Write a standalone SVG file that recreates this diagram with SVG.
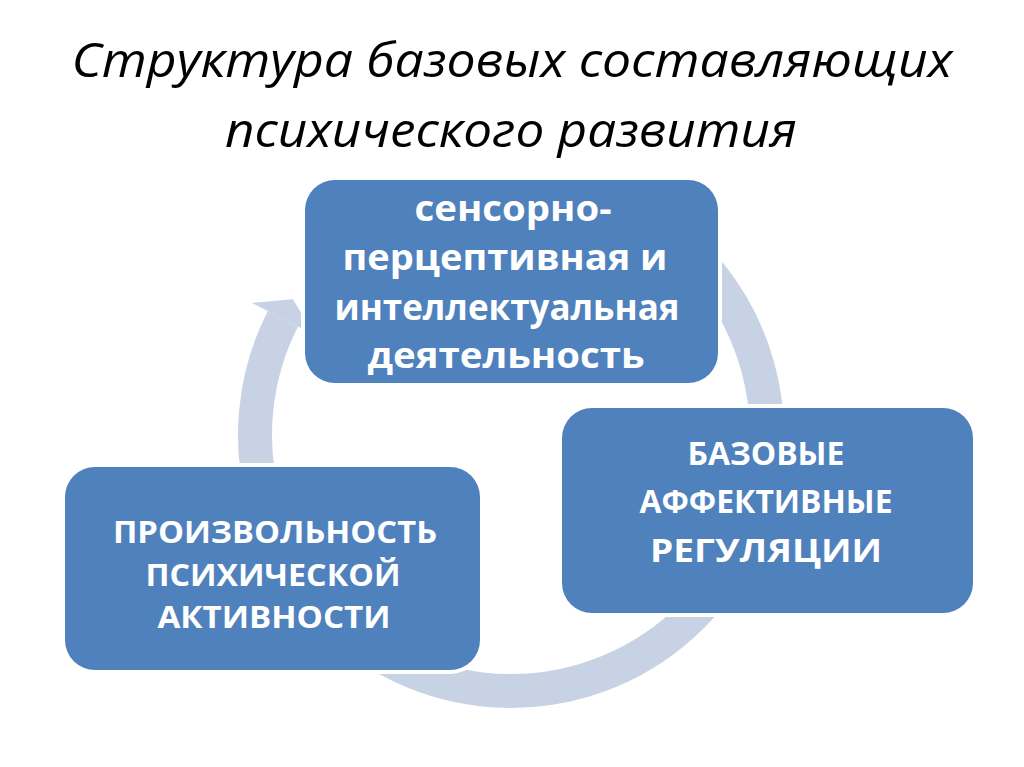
<svg xmlns="http://www.w3.org/2000/svg" width="1024" height="767" viewBox="0 0 1024 767">
<style>
.title{font-family:"Open Sans","Liberation Sans",sans-serif;font-style:italic;font-size:48px;fill:#000;text-anchor:middle}
.box{fill:#4F81BD;stroke:#fff;stroke-width:8;paint-order:stroke}
.lbl{font-family:"Open Sans","Liberation Sans",sans-serif;font-weight:bold;font-size:33px;fill:#fff;text-anchor:middle}
.top{font-size:35px}
.lft{font-size:31px}
.arc{fill:none;stroke:#C8D2E5;stroke-width:34}
</style>
<rect width="1024" height="767" fill="#fff"/>
<g id="title">
<text class="title" x="512" y="77" textLength="881" lengthAdjust="spacingAndGlyphs">Структура базовых составляющих</text>
<text class="title" x="511" y="147" textLength="572" lengthAdjust="spacingAndGlyphs">психического развития</text>
</g>
<g id="connectors">
<path class="arc" d="M639,213.3 A256,256 0 1 1 282.9,318.8"/>
<polygon points="251.7,302.9 292.9,299.2 314.1,334.7" fill="#C8D2E5"/>
</g>
<g id="node-top">
<rect class="box" x="305" y="180" width="413" height="203" rx="30"/>
<text class="lbl top" x="513" y="221" textLength="197" lengthAdjust="spacingAndGlyphs">сенсорно-</text>
<text class="lbl top" x="505" y="270" textLength="325" lengthAdjust="spacingAndGlyphs">перцептивная и</text>
<text class="lbl top" x="507" y="320" textLength="345" lengthAdjust="spacingAndGlyphs">интеллектуальная</text>
<text class="lbl top" x="506" y="368" textLength="277" lengthAdjust="spacingAndGlyphs">деятельность</text>
</g>
<g id="node-right">
<rect class="box" x="562" y="408" width="411" height="205" rx="30"/>
<text class="lbl" x="766" y="465" textLength="157" lengthAdjust="spacingAndGlyphs">БАЗОВЫЕ</text>
<text class="lbl" x="766" y="513" textLength="253" lengthAdjust="spacingAndGlyphs">АФФЕКТИВНЫЕ</text>
<text class="lbl" x="766" y="562" textLength="232" lengthAdjust="spacingAndGlyphs">РЕГУЛЯЦИИ</text>
</g>
<g id="node-left">
<rect class="box" x="65" y="467" width="415" height="203" rx="30"/>
<text class="lbl lft" x="275" y="543" textLength="324" lengthAdjust="spacingAndGlyphs">ПРОИЗВОЛЬНОСТЬ</text>
<text class="lbl lft" x="273" y="586" textLength="255" lengthAdjust="spacingAndGlyphs">ПСИХИЧЕСКОЙ</text>
<text class="lbl lft" x="274" y="628" textLength="233" lengthAdjust="spacingAndGlyphs">АКТИВНОСТИ</text>
</g>
</svg>
